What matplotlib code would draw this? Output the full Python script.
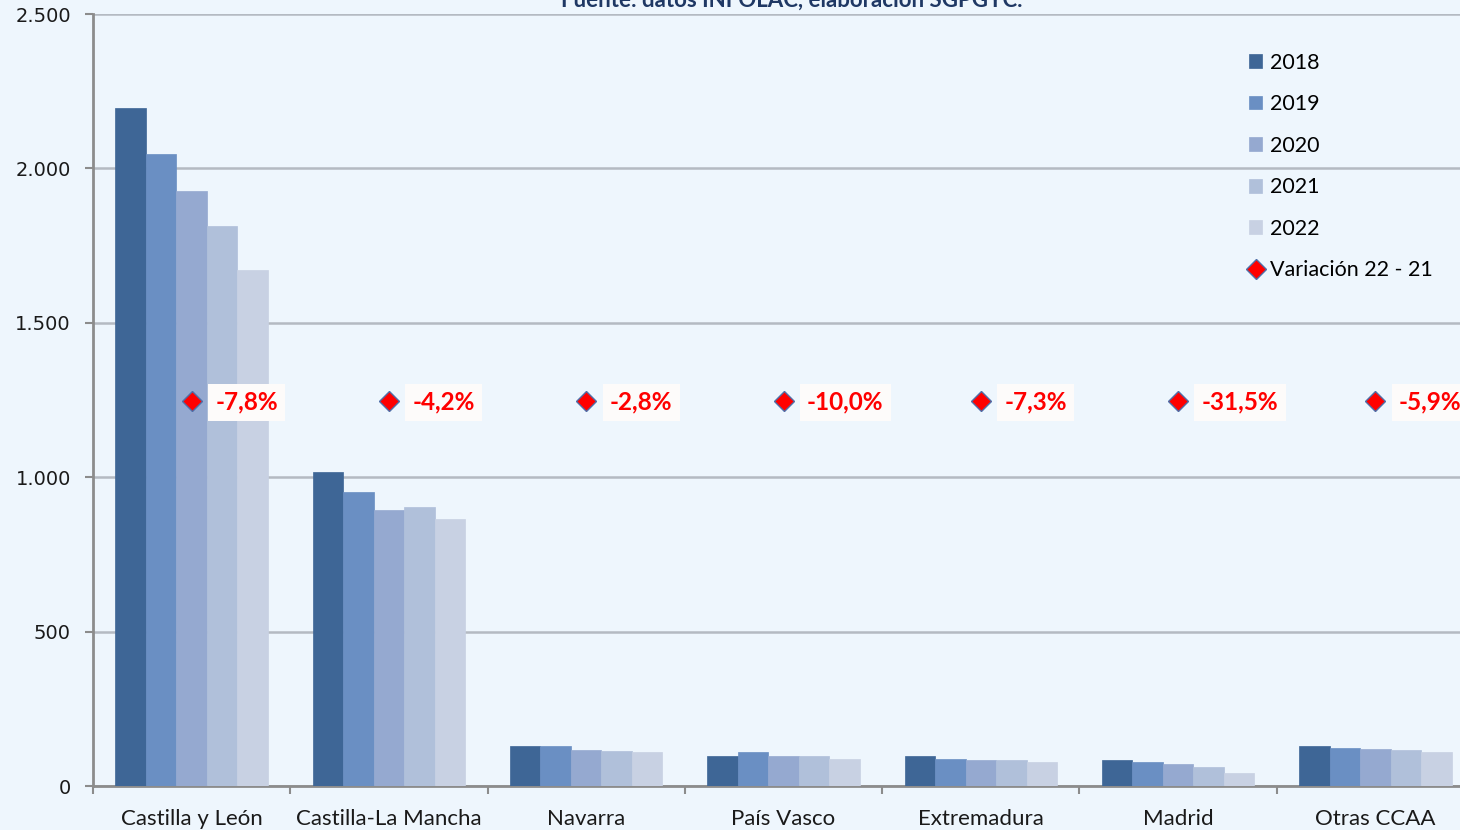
import matplotlib
matplotlib.use("Agg")
import matplotlib.pyplot as plt
import matplotlib.ticker as mticker
import numpy as np

# data
regiones = ["Castilla y León", "Castilla-La Mancha", "Navarra", "País Vasco",
            "Extremadura", "Madrid", "Otras CCAA"]
anios = ["2018", "2019", "2020", "2021", "2022"]
v2018 = [2195, 1018, 128, 96, 96, 83, 128]
v2019 = [2047, 951, 128, 109, 86, 77, 122]
v2020 = [1927, 894, 116, 96, 83, 70, 119]
v2021 = [1813, 903, 113, 96, 83, 61, 116]
v2022 = [1671, 865, 110, 86, 77, 42, 109]
variacion = ["-7,8%", "-4,2%", "-2,8%", "-10,0%", "-7,3%", "-31,5%", "-5,9%"]

series = [v2018, v2019, v2020, v2021, v2022]
colores = ["#3E6696", "#6A8FC3", "#95A9D0", "#B0C0DA", "#C8D1E3"]
fondo = "#EEF6FD"
marker_y = 1247  # the diamonds sit at a fixed height in the original

plt.rcParams["font.family"] = ["Lato", "DejaVu Sans"]

fig = plt.figure(figsize=(14.6, 8.3), dpi=100, facecolor=fondo)
# the original chart is cut off on the right, so the axes runs past the figure edge
ax = fig.add_axes([93 / 1460, 44 / 830, 1381 / 1460, 772 / 830])
ax.set_facecolor(fondo)

x = np.arange(len(regiones))
ancho = 0.1545
for i, (vals, col) in enumerate(zip(series, colores)):
    ax.bar(x + (i - 2) * ancho, vals, width=ancho, color=col,
           edgecolor=col, linewidth=0.5, label=anios[i], zorder=3)

# variation markers + labels
ax.plot(x, [marker_y] * len(x), linestyle="none", marker="D", markersize=10,
        markerfacecolor="red", markeredgecolor="#4F6FA8", markeredgewidth=1,
        label="Variación 22 - 21", zorder=4)
for xi, txt in zip(x, variacion):
    ax.annotate(txt, (xi, marker_y), xytext=(17, -1), textcoords="offset points",
                ha="left", va="center", color="red", fontsize=17.5,
                fontweight="bold", zorder=5,
                bbox=dict(boxstyle="square,pad=0.3", fc="#FDFBFA", ec="none"))

ax.set_xlim(-0.5, len(regiones) - 0.5)
ax.set_ylim(0, 2500)
ax.yaxis.set_major_locator(mticker.MultipleLocator(500))
ax.yaxis.set_major_formatter(
    mticker.FuncFormatter(lambda v, p: f"{int(v):,}".replace(",", ".")))
ax.grid(axis="y", color="#B4BAC2", linewidth=1.8, zorder=0)

ax.set_xticks(x)
ax.set_xticklabels(regiones, fontsize=16, color="#1A1A1A")
ax.set_xticks(np.arange(len(regiones) + 1) - 0.5, minor=True)
ax.tick_params(axis="x", which="major", length=0, pad=16.5)
ax.tick_params(axis="x", which="minor", length=6, width=1.5, color="#8C8C8C")
ax.tick_params(axis="y", length=6, width=1.5, color="#8C8C8C", pad=10,
               labelsize=14, labelcolor="#1A1A1A")
for lbl in ax.get_yticklabels():
    lbl.set_fontfamily("DejaVu Sans")

for s in ["top", "right"]:
    ax.spines[s].set_visible(False)
for s in ["left", "bottom"]:
    ax.spines[s].set_color("#8C8C8C")
    ax.spines[s].set_linewidth(2)

handles, labels = ax.get_legend_handles_labels()
handles = handles[1:] + handles[:1]
labels = labels[1:] + labels[:1]
leg = ax.legend(handles, labels, loc="upper left",
                bbox_to_anchor=(1137 / 1381, 0.975),
                frameon=False, fontsize=15.5, handlelength=0.6, handleheight=0.6,
                handletextpad=0.35, labelspacing=1.0)

fig.text(792 / 1460, 1 - 7 / 830, "Fuente: datos INFOLAC, elaboración SGPGYC.",
         ha="center", va="baseline", fontsize=16, fontweight="bold",
         color="#1F3864")

fig.savefig("out.png", dpi=100, facecolor=fondo)
